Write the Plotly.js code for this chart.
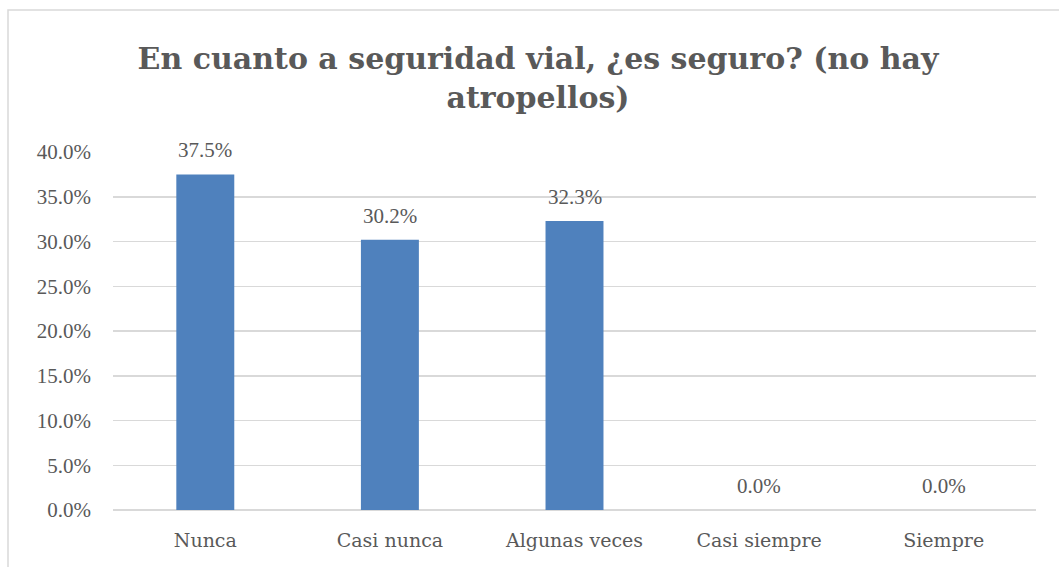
<!DOCTYPE html>
<html>
<head>
<meta charset="utf-8">
<script src="https://cdn.plot.ly/plotly-3.0.1.min.js"></script>
<style>html,body{margin:0;padding:0;background:#fff;}#chart{width:1059px;height:567px;}</style>
</head>
<body>
<div id="chart"></div>
<script>
const categories = ["Nunca", "Casi nunca", "Algunas veces", "Casi siempre", "Siempre"];
const values = [0.375, 0.302, 0.323, 0.0, 0.0];
const labels = ["37.5%", "30.2%", "32.3%", "0.0%", "0.0%"];
const tickVals = [0, 0.05, 0.10, 0.15, 0.20, 0.25, 0.30, 0.35, 0.40];
const tickText = ["0.0%", "5.0%", "10.0%", "15.0%", "20.0%", "25.0%", "30.0%", "35.0%", "40.0%"];

const textColor = "#595959";
const serif = "Liberation Serif, DejaVu Serif, serif";
const wideSerif = "DejaVu Serif, Liberation Serif, serif";

const trace = {
  type: "bar",
  x: categories,
  y: values,
  marker: {color: "#4F81BD", line: {color: "#4F81BD", width: 0}},
  hoverinfo: "skip"
};

const annotations = categories.map((c, i) => ({
  x: c, y: values[i], xref: "x", yref: "y",
  text: labels[i], showarrow: false,
  yanchor: "bottom", yshift: 10,
  font: {family: serif, size: 21, color: textColor}
}));

const layout = {
  width: 1059, height: 567,
  margin: {l: 113, r: 23, t: 152, b: 57},
  paper_bgcolor: "#ffffff", plot_bgcolor: "#ffffff",
  showlegend: false,
  bargap: 0.686,
  title: {
    text: "<b>En cuanto a seguridad vial, ¿es seguro? (no hay<br>atropellos)</b>",
    x: 0.508, xanchor: "center", y: 0.878, yanchor: "middle",
    font: {family: wideSerif, size: 30, color: textColor}
  },
  xaxis: {
    type: "category",
    tickfont: {family: wideSerif, size: 19, color: textColor},
    showgrid: false, zeroline: false, showline: false, ticks: "",
    ticklabelstandoff: 17
  },
  yaxis: {
    range: [0, 0.4],
    tickvals: tickVals, ticktext: tickText,
    tickfont: {family: serif, size: 21, color: textColor},
    showgrid: true, gridcolor: "#D9D9D9", gridwidth: 1.5,
    zeroline: true, zerolinecolor: "#D9D9D9", zerolinewidth: 1.5,
    showline: false, ticks: "",
    ticklabelstandoff: 21
  },
  annotations: annotations,
  shapes: [{
    type: "rect", xref: "paper", yref: "paper",
    x0: (8 - 113) / 923, x1: (1064 - 113) / 923,
    y0: (510 - 575) / 358, y1: (510 - 10) / 358,
    line: {color: "#D9D9D9", width: 1.5}, fillcolor: "rgba(0,0,0,0)",
    layer: "below"
  }]
};

Plotly.newPlot("chart", [trace], layout, {displayModeBar: false, staticPlot: true});
</script>
</body>
</html>
